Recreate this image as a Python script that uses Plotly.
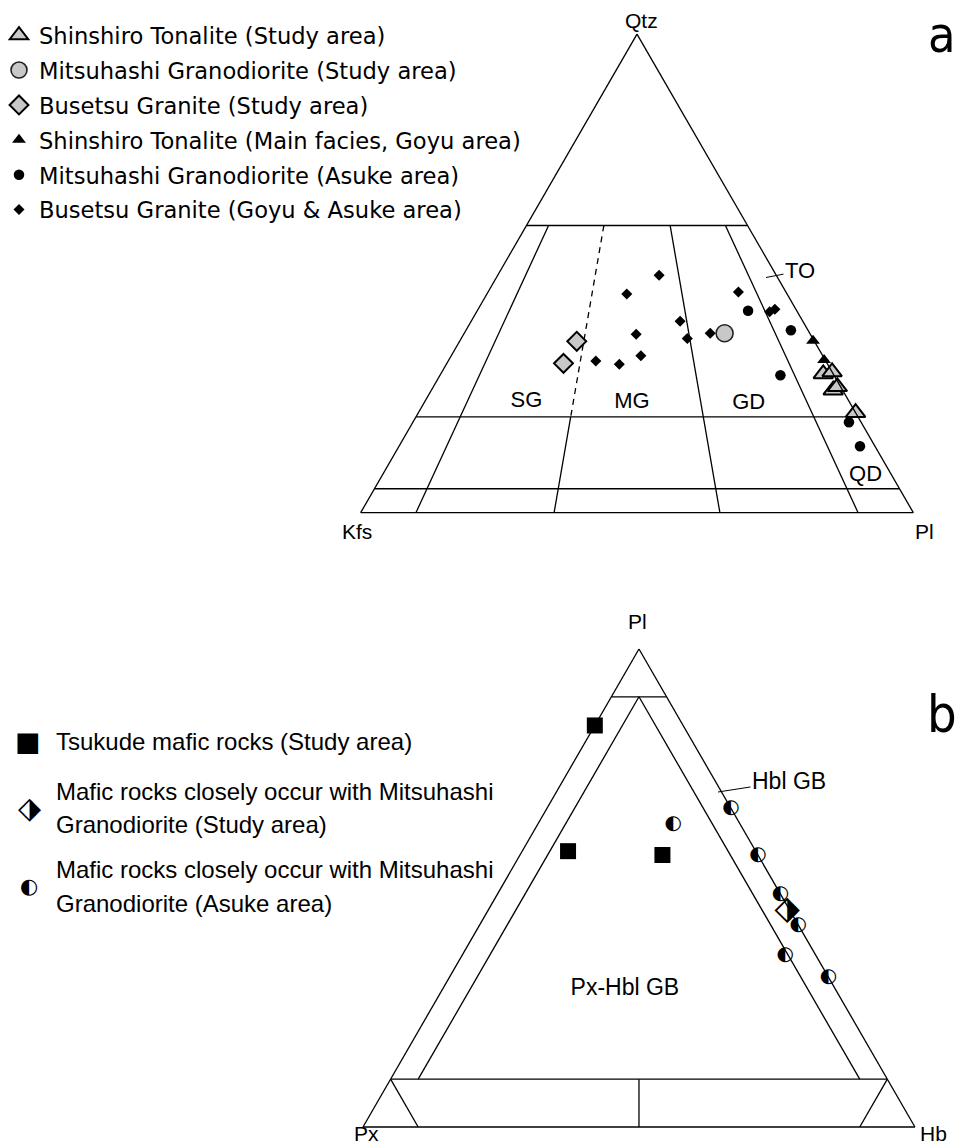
import plotly.graph_objects as go

FIG_W, FIG_H = 961, 1146

# ---------------- (a) Qtz - Kfs - Pl modal compositions (vol.%) ----------------
shinshiro_study_qtz = [29.0, 29.4, 25.6, 26.3, 20.9]
shinshiro_study_kfs = [1.8, 0.0, 1.7, 0.6, 0.0]
shinshiro_study_pl = [69.2, 70.6, 72.7, 73.1, 79.1]

mitsuhashi_study_qtz = [37.5]
mitsuhashi_study_kfs = [15.4]
mitsuhashi_study_pl = [47.1]

busetsu_study_qtz = [35.8, 31.2]
busetsu_study_kfs = [43.0, 47.7]
busetsu_study_pl = [21.2, 21.1]

shinshiro_goyu_qtz = [35.9, 31.9]
shinshiro_goyu_kfs = [0.2, 0.2]
shinshiro_goyu_pl = [63.9, 67.9]

mitsuhashi_asuke_qtz = [42.2, 38.1, 28.7, 18.9, 13.9]
mitsuhashi_asuke_kfs = [8.8, 3.1, 9.7, 2.2, 2.7]
mitsuhashi_asuke_pl = [49.0, 58.8, 61.6, 78.9, 83.4]

busetsu_ga_qtz = [49.6, 45.7, 40.0, 37.3, 36.4, 37.5, 31.7, 31.0, 32.8, 46.1, 42.0, 42.5]
busetsu_ga_kfs = [21.2, 29.0, 22.2, 31.5, 22.7, 18.0, 41.6, 37.7, 32.9, 8.6, 5.0, 3.8]
busetsu_ga_pl = [29.2, 25.3, 37.8, 31.2, 40.9, 44.5, 26.7, 31.3, 34.3, 45.3, 53.0, 53.7]

# ---------------- (b) Pl - Px - Hb modal compositions (vol.%) ----------------
tsukude_pl = [84.0, 57.7, 56.9]
tsukude_px = [16.0, 34.0, 17.3]
tsukude_hb = [0.0, 8.3, 25.8]

mafic_study_pl = [45.3]
mafic_study_px = [0.5]
mafic_study_hb = [54.2]

mafic_asuke_pl = [63.4, 66.7, 56.9, 48.7, 42.3, 36.0, 31.3]
mafic_asuke_px = [12.1, 0.0, 0.0, 0.0, 0.0, 5.5, 0.0]
mafic_asuke_hb = [24.5, 33.3, 43.1, 51.3, 57.7, 58.5, 68.7]

# QAPF field boundaries: Qtz levels and Pl/(Kfs+Pl) ratios
qapf_q_levels = [60, 20, 5]
qapf_ratios = [0.10, 0.35, 0.65, 0.90]

ARIAL = "Liberation Sans, Arial, sans-serif"
LEGEND_FONT = "DejaVu Sans, Verdana, sans-serif"
GLYPH_FONT = "DejaVu Sans"
GRAY = "#c8c8c8"
LW = 1.3

fig = go.Figure()


def add_line(subplot, a, b, c, dash="solid"):
    fig.add_trace(go.Scatterternary(
        subplot=subplot, a=a, b=b, c=c, mode="lines",
        line=dict(color="black", width=LW, dash=dash),
        showlegend=False, hoverinfo="skip", cliponaxis=False))


# ---- QAPF boundaries ----
for q in qapf_q_levels:
    add_line("ternary", [q, q], [100 - q, 0], [0, 100 - q])
for r in qapf_ratios:
    if r == 0.35:
        add_line("ternary", [60, 20], [40 * (1 - r), 80 * (1 - r)], [40 * r, 80 * r], dash="6px,5px")
        add_line("ternary", [20, 0], [80 * (1 - r), 100 * (1 - r)], [80 * r, 100 * r])
    else:
        add_line("ternary", [60, 0], [40 * (1 - r), 100 * (1 - r)], [40 * r, 100 * r])

# ---- Pl-Px-Hb boundaries ----
add_line("ternary2", [90, 90], [10, 0], [0, 10])
add_line("ternary2", [10, 10], [90, 0], [0, 90])
add_line("ternary2", [90, 10], [5, 85], [5, 5])
add_line("ternary2", [90, 10], [5, 5], [5, 85])
add_line("ternary2", [10, 0], [45, 50], [45, 50])
add_line("ternary2", [10, 0], [90, 90], [0, 10])
add_line("ternary2", [10, 0], [0, 10], [90, 90])


def add_points(subplot, a, b, c, name, symbol, size, color, lcolor="black", lwidth=0, rank=None):
    fig.add_trace(go.Scatterternary(
        subplot=subplot, a=a, b=b, c=c, mode="markers", name=name,
        marker=dict(symbol=symbol, size=size, color=color,
                    line=dict(color=lcolor, width=lwidth)),
        showlegend=rank is not None, legendrank=rank if rank else 1000,
        legendgroup=name, cliponaxis=False))


# ---- (a) samples: regional data first, study-area samples on top ----
add_points("ternary", busetsu_ga_qtz, busetsu_ga_kfs, busetsu_ga_pl,
           "Busetsu Granite (Goyu & Asuke area)", "diamond", 8.5, "black", rank=6)
add_points("ternary", mitsuhashi_asuke_qtz, mitsuhashi_asuke_kfs, mitsuhashi_asuke_pl,
           "Mitsuhashi Granodiorite (Asuke area)", "circle", 10.5, "black", rank=5)
add_points("ternary", shinshiro_goyu_qtz, shinshiro_goyu_kfs, shinshiro_goyu_pl,
           "Shinshiro Tonalite (Main facies, Goyu area)", "triangle-up", 12, "black", rank=4)
add_points("ternary", busetsu_study_qtz, busetsu_study_kfs, busetsu_study_pl,
           "Busetsu Granite (Study area)", "diamond", 14.5, GRAY, lwidth=2, rank=3)
add_points("ternary", mitsuhashi_study_qtz, mitsuhashi_study_kfs, mitsuhashi_study_pl,
           "Mitsuhashi Granodiorite (Study area)", "circle", 17, GRAY, lcolor="#222", lwidth=1.6, rank=2)
add_points("ternary", shinshiro_study_qtz, shinshiro_study_kfs, shinshiro_study_pl,
           "Shinshiro Tonalite (Study area)", "triangle-up", 17, GRAY, lwidth=2, rank=1)

# ---- (b) samples ----
add_points("ternary2", tsukude_pl, tsukude_px, tsukude_hb,
           "Tsukude mafic rocks (Study area)", "square", 16, "black")
fig.add_trace(go.Scatterternary(
    subplot="ternary2", a=mafic_asuke_pl, b=mafic_asuke_px, c=mafic_asuke_hb,
    mode="text", text=["\u25D0"] * len(mafic_asuke_pl),
    textfont=dict(family=GLYPH_FONT, size=20, color="black"),
    textposition="middle center", showlegend=False, cliponaxis=False,
    name="Mafic rocks (Asuke area)"))
fig.add_trace(go.Scatterternary(
    subplot="ternary2", a=mafic_study_pl, b=mafic_study_px, c=mafic_study_hb,
    mode="text", text=["\u2B17"] * len(mafic_study_pl),
    textfont=dict(family=GLYPH_FONT, size=33, color="black"),
    textposition="middle center", showlegend=False, cliponaxis=False,
    name="Mafic rocks (Study area)"))

# ---- field names placed at ternary positions ----
field_a_names = ["SG", "MG", "GD", "QD"]
field_a_qtz = [23.2, 23.0, 22.8, 7.7]
field_a_kfs = [58.4, 39.4, 18.4, 4.8]
field_a_pl = [18.4, 37.6, 58.8, 87.5]
fig.add_trace(go.Scatterternary(
    subplot="ternary", a=field_a_qtz, b=field_a_kfs, c=field_a_pl, mode="text",
    text=field_a_names, textfont=dict(family=ARIAL, size=22, color="black"),
    showlegend=False, hoverinfo="skip", cliponaxis=False))

fig.add_trace(go.Scatterternary(
    subplot="ternary2", a=[28.9], b=[38.1], c=[33.0], mode="text",
    text=["Px-Hbl GB"], textfont=dict(family=ARIAL, size=23, color="black"),
    showlegend=False, hoverinfo="skip", cliponaxis=False))

axis_style = dict(showline=True, linecolor="black", linewidth=LW, showgrid=False,
                  showticklabels=False, ticks="", title=dict(text=""))

fig.update_layout(
    width=FIG_W, height=FIG_H,
    margin=dict(l=0, r=0, t=0, b=0, autoexpand=False),
    paper_bgcolor="white", plot_bgcolor="white",
    ternary=dict(domain=dict(x=[0.3753, 0.9504], y=[0.5526, 0.9703]), sum=100,
                 bgcolor="white", aaxis=axis_style, baxis=axis_style, caxis=axis_style),
    ternary2=dict(domain=dict(x=[0.3777, 0.9521], y=[0.0166, 0.4337]), sum=100,
                  bgcolor="white", aaxis=axis_style, baxis=axis_style, caxis=axis_style),
    legend=dict(x=-1 / FIG_W, y=1 - 14 / FIG_H, xanchor="left", yanchor="top",
                font=dict(family=LEGEND_FONT, size=22.6, color="black"),
                bgcolor="rgba(0,0,0,0)", tracegroupgap=2.5, itemsizing="trace",
                itemclick=False),
    showlegend=True,
)


def px(x, y):
    return x / FIG_W, 1 - y / FIG_H


annotations = []


def label(text, x, y, size=21, family=ARIAL, xanchor="center"):
    xp, yp = px(x, y)
    annotations.append(dict(text=text, x=xp, y=yp, xref="paper", yref="paper",
                            xanchor=xanchor, yanchor="middle", showarrow=False,
                            font=dict(family=family, size=size, color="black")))


# corner names
label("Qtz", 641, 20)
label("Kfs", 357, 531)
label("Pl", 924, 531)
label("Pl", 637, 621)
label("Px", 366, 1133)
label("Hb", 933, 1133)

# panel letters
NARROW = "Liberation Sans Narrow, DejaVu Sans Condensed, Arial"
label("a", 942, 35, size=50, family=NARROW)
label("b", 942, 714, size=52, family=NARROW)


def leader(text, x, y, tx, ty, size):
    xp, yp = px(x, y)
    annotations.append(dict(text=text, x=xp, y=yp, xref="paper", yref="paper",
                            ax=tx - x, ay=ty - y, showarrow=True, arrowhead=0,
                            arrowwidth=1, arrowcolor="black", standoff=0,
                            font=dict(family=ARIAL, size=size, color="black")))


leader("TO", 766, 277.5, 800, 271, 22)
leader("Hbl GB", 718, 792, 789, 781, 23)

# legend for (b)
label("\u25A0", 28, 741, size=27, family=GLYPH_FONT)
label("\u2B17", 29, 807, size=30, family=GLYPH_FONT)
label("\u25D0", 29, 886, size=21, family=GLYPH_FONT)
legend_b_rows = [
    ("Tsukude mafic rocks (Study area)", 741),
    ("Mafic rocks closely occur with Mitsuhashi", 791),
    ("Granodiorite (Study area)", 824),
    ("Mafic rocks closely occur with Mitsuhashi", 869),
    ("Granodiorite (Asuke area)", 903),
]
for txt, yy in legend_b_rows:
    label(txt, 54, yy, size=24, xanchor="left")

fig.update_layout(annotations=annotations)

fig.write_html("out.html")
